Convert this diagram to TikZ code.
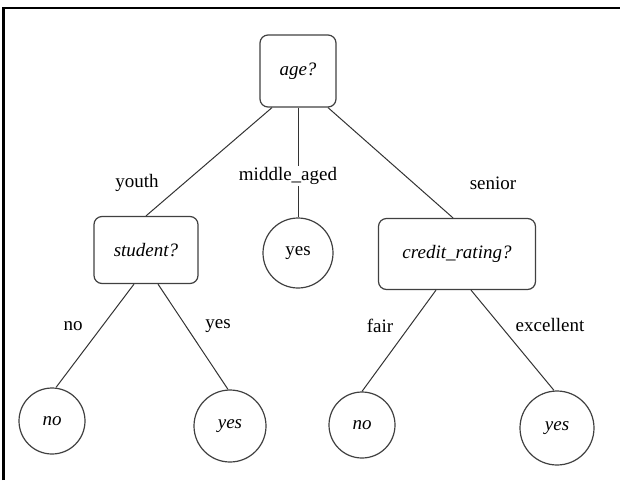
\documentclass[tikz,border=0pt]{standalone}
\usepackage{fontspec}
\setmainfont{Liberation Serif}
\usetikzlibrary{calc}
\begin{document}
\begin{tikzpicture}[x=1pt,y=-1pt,
  box/.style={draw=black!75, line width=1.2pt, rounded corners=8pt, inner sep=0pt, font=\fontsize{19}{22}\selectfont\itshape},
  leaf/.style={draw=black!75, line width=1.2pt, circle, inner sep=0pt, font=\fontsize{19}{22}\selectfont},
  lbl/.style={inner sep=1.5pt, font=\fontsize{19}{22}\selectfont},
  conn/.style={draw=black!80, line width=1pt}]
\useasboundingbox (0,0) rectangle (620,480);
\draw[line width=2.5pt] (3.7,480) -- (3.7,8) -- (620,8);

\node[box, minimum width=76pt, minimum height=72pt] (age) at (298,71) {age?};
\node[box, minimum width=104pt, minimum height=67pt] (student) at (146,250) {student?};
\node[leaf, minimum size=70pt] (myes) at (298,253) {yes};
\node[box, minimum width=157pt, minimum height=71pt] (credit) at (457,254) {credit\_rating?};

\node[leaf, minimum size=66pt, font=\fontsize{19}{22}\selectfont\itshape] (no1) at (52,421) {no};
\node[leaf, minimum size=72pt, font=\fontsize{19}{22}\selectfont\itshape] (yes1) at (230,426) {yes};
\node[leaf, minimum size=66pt, font=\fontsize{19}{22}\selectfont\itshape] (no2) at (362,425) {no};
\node[leaf, minimum size=74pt, font=\fontsize{19}{22}\selectfont\itshape] (yes2) at (557,428) {yes};

\draw[conn] ($(age.south)+(-26,0)$) -- (student.north);
\draw[conn] (age.south) -- (myes.north);
\draw[conn] ($(age.south)+(30,0)$) -- ($(credit.north)+(-4,0)$);
\draw[conn] ($(student.south)+(-12,0)$) -- ($(no1.north)+(4,0)$);
\draw[conn] ($(student.south)+(12,0)$) -- ($(yes1.north)+(-2,0)$);
\draw[conn] ($(credit.south)+(-21,0)$) -- (no2.north);
\draw[conn] ($(credit.south)+(14,0)$) -- ($(yes2.north)+(-3,0)$);

\node[lbl] (lyouth) at (137,183) {youth};
\node[lbl, fill=white] (lmid) at (288,176) {middle\_aged};
\node[lbl] (lsenior) at (493,183) {senior};
\node[lbl] (lno) at (73,326) {no};
\node[lbl] (lyes) at (218,326) {yes};
\node[lbl] (lfair) at (380,326) {fair};
\node[lbl] (lexc) at (550,325) {excellent};
\end{tikzpicture}
\end{document}
